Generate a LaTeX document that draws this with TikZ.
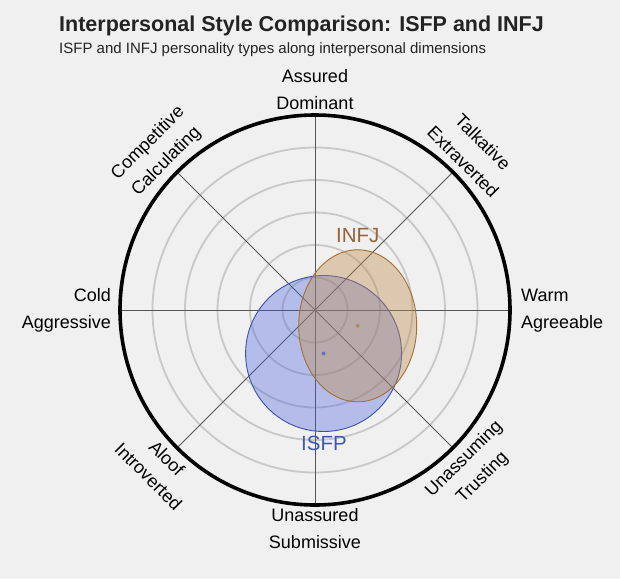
\documentclass[tikz,border=0pt]{standalone}
\usepackage{fontspec}
\setmainfont{Liberation Sans}
\usetikzlibrary{shapes.geometric}
\definecolor{bg}{RGB}{240,240,240}
\definecolor{ringc}{RGB}{200,200,200}
\definecolor{spokec}{RGB}{85,85,85}
\definecolor{isfpfill}{RGB}{70,95,220}
\definecolor{isfpline}{RGB}{60,80,175}
\definecolor{isfptext}{RGB}{60,90,180}
\definecolor{infjfill}{RGB}{190,140,77}
\definecolor{infjline}{RGB}{165,110,50}
\definecolor{infjtext}{RGB}{150,100,55}
\tikzset{
  lbl/.style={font=\fontsize{18}{21}\selectfont, text=black, inner sep=0pt, text height=13pt, text depth=3.5pt},
  ring/.style={draw=ringc, line width=1.8pt},
  spoke/.style={draw=spokec, line width=0.9pt},
  typelbl/.style={font=\fontsize{20.5}{24}\selectfont, inner sep=0pt}
}
\begin{document}
\begin{tikzpicture}[x=1pt,y=1pt]
\useasboundingbox[fill=bg] (-315,-269) rectangle (305,310);
\coordinate (c) at (0,0);
% title
\node[anchor=base west, inner sep=0pt, font=\fontsize{21.5}{25}\selectfont\bfseries, text={rgb,255:red,35;green,35;blue,35}] (title) at (-256,278) {Interpersonal Style Comparison: ISFP and INFJ};
\node[anchor=base west, inner sep=0pt, font=\fontsize{15}{18}\selectfont, text={rgb,255:red,35;green,35;blue,35}] (sub) at (-256,257) {ISFP and INFJ personality types along interpersonal dimensions};
% rings
\foreach \k in {1,...,5} { \draw[ring] (c) circle ({32.5*\k}); }
% spokes
\foreach \a in {0,45,...,315} { \draw[spoke] (c) -- (\a:195); }
% ISFP
\node[circle, minimum size=156pt, inner sep=0pt, draw=isfpline, line width=0.9pt, fill=isfpfill, fill opacity=0.35] (isfp) at (8.6,-43.5) {};
% INFJ
\node[ellipse, minimum width=118pt, minimum height=152pt, inner sep=0pt, draw=infjline, line width=0.9pt, fill=infjfill, fill opacity=0.4] (infj) at (42.7,-15.8) {};
\fill[isfpline!80] (isfp.center) circle (2pt);
\fill[infjline!80] (infj.center) circle (2pt);
% outer circle
\draw[black, line width=3.6pt] (c) circle (195);
% type labels
\node[typelbl, text=infjtext] (infjl) at (42.7,74.3) {INFJ};
\node[typelbl, text=isfptext] (isfpl) at (9,-133.5) {ISFP};
% axis labels
\node[lbl] (dom) at (90:205) {Dominant};
\node[lbl] (ass) at (90:232) {Assured};
\node[lbl] (una) at (-90:207) {Unassured};
\node[lbl] (sub2) at (-90:234) {Submissive};
\node[lbl, anchor=east] (cold) at (-204,13) {Cold};
\node[lbl, anchor=east] (agg) at (-204,-14) {Aggressive};
\node[lbl, anchor=west] (warm) at (206,13) {Warm};
\node[lbl, anchor=west] (agr) at (206,-14) {Agreeable};
\node[lbl, rotate=45] (calc) at (135:210) {Calculating};
\node[lbl, rotate=45] (comp) at (135:236) {Competitive};
\node[lbl, rotate=-45] (extr) at (45:208) {Extraverted};
\node[lbl, rotate=-45] (talk) at (45:236) {Talkative};
\node[lbl, rotate=-45] (aloof) at (225:211) {Aloof};
\node[lbl, rotate=-45] (intro) at (225:237) {Introverted};
\node[lbl, rotate=45] (unas) at (-45:211) {Unassuming};
\node[lbl, rotate=45] (trust) at (-45:237) {Trusting};
\end{tikzpicture}
\end{document}
